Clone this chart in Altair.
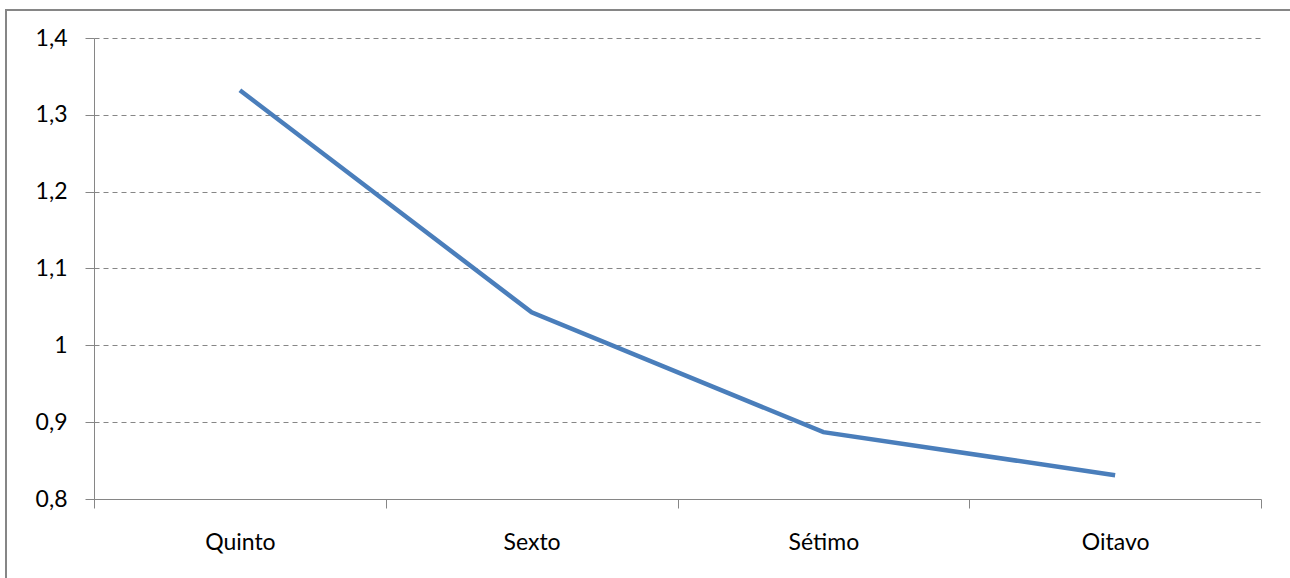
import altair as alt
import pandas as pd

# Series: ratio by school year
categories = ["Quinto", "Sexto", "Sétimo", "Oitavo"]
values = [1.332, 1.043, 0.887, 0.831]
y_ticks = [0.8, 0.9, 1.0, 1.1, 1.2, 1.3, 1.4]

df = pd.DataFrame({
    "ano": categories,
    "pos": [i + 0.5 for i in range(len(categories))],
    "valor": values,
})

# band edges get ticks, band centres get the category names
x_vals = [i * 0.5 for i in range(2 * len(categories) + 1)]
cat_js = "[" + ",".join("'" + c + "'" for c in categories) + "]"

GRAY = "#868686"
FONT = "Lato"
FONT_SIZE = 23

line = alt.Chart(df).mark_line(color="#4A7EBB", strokeWidth=4.5).encode(
    x=alt.X(
        "pos:Q",
        scale=alt.Scale(domain=[0, len(categories)], nice=False, zero=False),
        axis=alt.Axis(
            values=x_vals,
            title=None,
            grid=False,
            domainColor=GRAY,
            domainWidth=1,
            tickColor=GRAY,
            tickWidth=1,
            tickSize=9,
            tickOpacity={"condition": {"test": "datum.value % 1 != 0", "value": 0}, "value": 1},
            labelExpr=f"datum.value % 1 != 0 ? {cat_js}[floor(datum.value)] : ''",
            labelPadding=23,
            labelFont=FONT,
            labelFontSize=FONT_SIZE,
            labelColor="#000000",
            labelAngle=0,
        ),
    ),
    y=alt.Y(
        "valor:Q",
        scale=alt.Scale(domain=[0.8, 1.4], nice=False, zero=False),
        axis=alt.Axis(
            values=y_ticks,
            title=None,
            grid=True,
            gridColor=GRAY,
            gridDash=[5, 4],
            gridWidth=1,
            domainColor=GRAY,
            domainWidth=1,
            tickColor=GRAY,
            tickWidth=1,
            tickSize=9,
            labelExpr="replace(format(datum.value, '.1~f'), '.', ',')",
            labelPadding=18,
            labelFont=FONT,
            labelFontSize=FONT_SIZE,
            labelColor="#000000",
        ),
    ),
)

# outer frame edges of the chart area
frame_left = alt.Chart(pd.DataFrame({"k": [0]})).mark_rule(color=GRAY, strokeWidth=2).encode(
    x=alt.value(-88), y=alt.value(-29), y2=alt.value(560)
)
frame_top = alt.Chart(pd.DataFrame({"k": [0]})).mark_rule(color=GRAY, strokeWidth=2).encode(
    x=alt.value(-89), x2=alt.value(1220), y=alt.value(-28)
)

chart = alt.layer(line, frame_left, frame_top).properties(
    width=1167,
    height=461,
    autosize=alt.AutoSizeParams(type="none"),
    padding={"left": 94, "top": 38, "right": 29, "bottom": 79},
    background="#ffffff",
).configure_view(stroke=None)

chart.save("out.html", embed_options={"renderer": "svg", "actions": False})
